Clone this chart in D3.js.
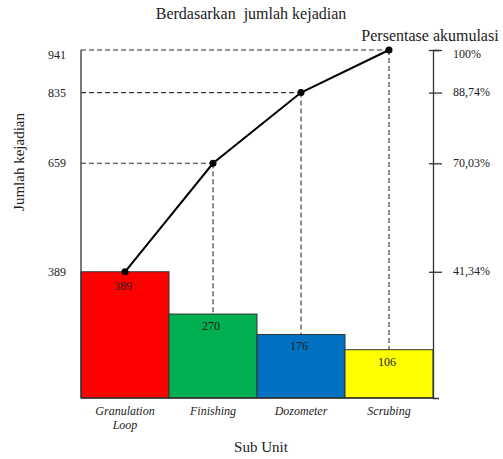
<!DOCTYPE html>
<html>
<head>
<meta charset="utf-8">
<script src="https://cdn.jsdelivr.net/npm/d3@7"></script>
<style>
  html, body { margin: 0; padding: 0; background: #fff; }
  svg { display: block; }
  text { font-family: "Liberation Serif", "Times New Roman", serif; fill: #222; }
</style>
</head>
<body>
<svg id="chart" width="503" height="459"></svg>
<script>
// Pareto data: incidents per sub unit
const categories = ["Granulation Loop", "Finishing", "Dozometer", "Scrubing"];
const counts = [389, 270, 176, 106];
const colors = ["#ff0000", "#00b050", "#0070c0", "#ffff00"];
const cumulative = [389, 659, 835, 941];
const cumulativeLabels = ["41,34%", "70,03%", "88,74%", "100%"];

const svg = d3.select("#chart");
const margin = { top: 50, right: 70, bottom: 61, left: 81 };
const W = +svg.attr("width"), H = +svg.attr("height");
const w = W - margin.left - margin.right;   // 352
const h = H - margin.top - margin.bottom;   // 348
const total = d3.max(cumulative);

const g = svg.append("g").attr("transform", `translate(${margin.left},${margin.top})`);

const x = d3.scaleBand().domain(categories).range([0, w]).padding(0);

// Count axis: lower part stretched so the short bars stay readable
const y = d3.scaleLinear()
  .domain([0, 100, 300, total])
  .range([h, h * 0.865, h * 0.74, 0]);

// Top tick labels sit a little below their tick
const labelShift = d => (d === total ? 5 : 0);

// Bars
g.selectAll("rect.bar").data(categories).join("rect")
  .attr("class", "bar")
  .attr("x", d => x(d))
  .attr("width", x.bandwidth())
  .attr("y", (d, i) => y(counts[i]))
  .attr("height", (d, i) => h - y(counts[i]))
  .attr("fill", (d, i) => colors[i])
  .attr("stroke", "#333")
  .attr("stroke-width", 1);

// Values inside bars
g.selectAll("text.val").data(categories).join("text")
  .attr("class", "val")
  .attr("x", d => x(d) + x.bandwidth() / 2 - 2)
  .attr("y", (d, i) => y(counts[i]) + (i === 0 ? 18 : 16))
  .attr("text-anchor", "middle")
  .attr("font-size", 12)
  .text((d, i) => counts[i]);

const px = d => x(d) + x.bandwidth() / 2;

// Dashed guides: horizontal to the count axis, vertical down to the bar
categories.forEach((c, i) => {
  if (i > 0) {
    g.append("line")
      .attr("x1", 0).attr("x2", px(c))
      .attr("y1", y(cumulative[i])).attr("y2", y(cumulative[i]))
      .attr("stroke", "#333").attr("stroke-width", 1.1)
      .attr("stroke-dasharray", "5,3");
    g.append("line")
      .attr("x1", px(c)).attr("x2", px(c))
      .attr("y1", y(cumulative[i])).attr("y2", y(counts[i]))
      .attr("stroke", "#333").attr("stroke-width", 1.1)
      .attr("stroke-dasharray", "5,3");
  }
});

// Cumulative line
const line = d3.line().x((d, i) => px(categories[i])).y(d => y(d));
g.append("path").datum(cumulative)
  .attr("d", line)
  .attr("fill", "none")
  .attr("stroke", "#000")
  .attr("stroke-width", 2);
g.selectAll("circle.pt").data(cumulative).join("circle")
  .attr("class", "pt")
  .attr("cx", (d, i) => px(categories[i]))
  .attr("cy", d => y(d))
  .attr("r", 3.5)
  .attr("fill", "#000");

// Left axis (count)
g.append("line").attr("x1", 0).attr("x2", 0).attr("y1", 0).attr("y2", h)
  .attr("stroke", "#333").attr("stroke-width", 1.3);
g.append("line").attr("x1", 0).attr("x2", w).attr("y1", h).attr("y2", h)
  .attr("stroke", "#333").attr("stroke-width", 1.3);
g.selectAll("text.ly").data(cumulative).join("text")
  .attr("class", "ly")
  .attr("x", -15)
  .attr("y", d => y(d) + labelShift(d))
  .attr("dy", "0.35em")
  .attr("text-anchor", "end")
  .attr("font-size", 12)
  .text(d => d);

// Right axis (cumulative percentage)
const yr = d3.axisRight(y).tickValues(cumulative).tickSize(6)
  .tickFormat((d, i) => cumulativeLabels[i]);
const ra = g.append("g").attr("transform", `translate(${w},0)`).call(yr);
ra.select(".domain").attr("stroke", "#333").attr("stroke-width", 1.3);
ra.selectAll(".tick line").attr("x1", -4).attr("x2", 9).attr("stroke", "#333").attr("stroke-width", 1.3);
ra.selectAll(".tick text").attr("x", 20).attr("font-size", 12)
  .attr("y", d => labelShift(d) - 1)
  .attr("font-family", "Liberation Serif, Times New Roman, serif").attr("fill", "#222");

// Category labels
categories.forEach(c => {
  const words = c === "Granulation Loop" ? ["Granulation", "Loop"] : [c];
  words.forEach((wd, k) => {
    g.append("text")
      .attr("x", px(c)).attr("y", h + 17 + k * 14)
      .attr("text-anchor", "middle")
      .attr("font-size", 12).attr("font-style", "italic")
      .text(wd);
  });
});

// Titles
svg.append("text").attr("x", 251).attr("y", 19).attr("text-anchor", "middle")
  .attr("font-size", 16).attr("xml:space", "preserve").text("Berdasarkan  jumlah kejadian");
svg.append("text").attr("x", 430).attr("y", 41).attr("text-anchor", "middle")
  .attr("font-size", 16).text("Persentase akumulasi");
svg.append("text").attr("x", 261).attr("y", 452).attr("text-anchor", "middle")
  .attr("font-size", 15).text("Sub Unit");
svg.append("text").attr("transform", "translate(24,162) rotate(-90)")
  .attr("text-anchor", "middle").attr("font-size", 15).text("Jumlah kejadian");
</script>
</body>
</html>
